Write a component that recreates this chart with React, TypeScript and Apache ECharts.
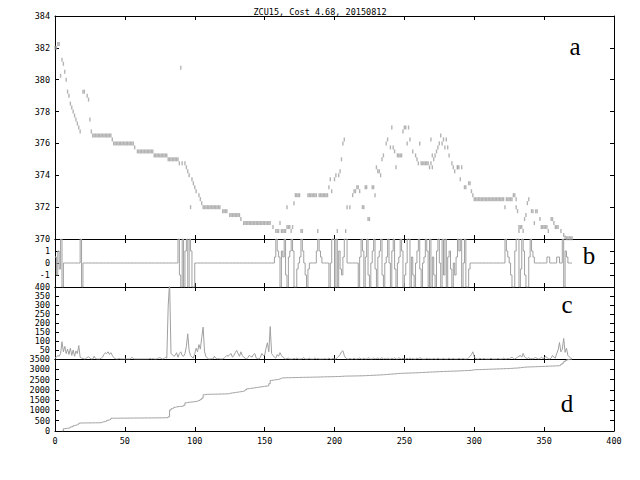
import React, { useEffect, useRef } from 'react';
import * as echarts from 'echarts';

const TITLE = 'ZCU15, Cost 4.68, 20150812';
const PANEL_LABELS = ['a', 'b', 'c', 'd'];

// panel a: price marks, index 0..370 (null = no mark)
const priceMain: (number | null)[] = [
  382.0, 382.0, 382.25, 382.25, 380.25, 381.25, 381.0, 380.5, 380.0, 379.25,
  379.0, 378.5, 378.25, 378.0, 377.75, 377.5, 377.25, 377.0, 376.75, null,
  379.25, 379.25, null, 379.0, 378.75, 377.5, 376.75, 376.5, 376.5, 376.5,
  376.5, 376.5, 376.5, 376.5, 376.5, 376.5, 376.5, 376.5, 376.5, 376.5,
  376.5, 376.25, 376.0, 376.0, 376.0, 376.0, 376.0, 376.0, 376.0, 376.0,
  376.0, 376.0, 376.0, 376.0, 376.0, 376.0, 376.0, 375.75, null, 375.5,
  375.5, 375.5, 375.5, 375.5, 375.5, 375.5, 375.5, 375.5, 375.5, 375.5,
  375.5, 375.25, 375.25, 375.25, 375.25, 375.25, 375.25, 375.25, 375.25, 375.25,
  375.25, 375.0, 375.0, 375.0, 375.0, 375.0, 375.0, 375.0, 375.0, 374.75,
  null, 374.75, null, 374.75, 374.5, 374.25, 374.0, null, 373.75, 373.5,
  373.25, 373.0, null, 372.75, 372.5, 372.25, 372.0, 372.0, 372.0, 372.0,
  372.0, 372.0, 372.0, 372.0, 372.0, 372.0, 372.0, 372.0, 372.0, null,
  371.75, 371.75, 371.75, 371.75, null, 371.5, 371.5, 371.5, 371.5, 371.5,
  371.5, 371.5, 371.5, 371.25, null, 371.0, 371.0, 371.0, 371.0, 371.0,
  371.0, 371.0, 371.0, 371.0, 371.0, 371.0, 371.0, 371.0, 371.0, 371.0,
  371.0, 371.0, 371.0, 371.0, 371.0, null, 370.75, null, 370.5, 370.5,
  370.5, 371.0, 370.5, 370.5, 370.5, 370.5, 372.0, 370.75, 370.75, 370.5,
  370.75, 372.25, 372.75, 372.75, 372.75, 372.75, 370.5, 370.5, null, null,
  null, 372.75, 372.75, 372.75, 372.75, 372.75, 372.75, 372.75, 370.5, 372.75,
  372.75, 372.75, 372.75, 372.75, 372.75, 372.75, 373.25, 373.75, 373.0, null,
  373.75, 374.0, 370.5, 374.0, 374.25, 375.0, 376.0, 376.25, 370.5, 372.0,
  null, 372.0, null, 372.75, 373.0, 373.0, 373.25, 373.25, 373.0, null,
  372.0, 372.0, 373.25, 373.25, 371.25, 371.25, null, 373.25, 373.25, 372.75,
  374.5, 374.25, 374.25, 374.0, 375.0, 375.25, null, 376.0, 376.25, null,
  375.75, 377.0, 375.75, 375.5, 374.5, 375.25, 375.25, 375.25, 375.25, 376.75,
  377.0, 377.0, 376.0, 377.0, 376.25, null, 375.5, null, 375.25, 375.0,
  374.75, 376.0, 374.75, 374.75, 374.75, 374.75, 374.75, 374.75, 374.5, 376.25,
  375.25, 375.0, 375.25, 375.5, 375.75, 376.0, 376.5, 376.0, 376.25, 375.75,
  376.25, 375.75, 375.25, null, 374.75, 374.5, 374.25, null, 374.5, 374.5,
  373.75, 374.5, null, 373.25, 373.25, null, 373.5, 373.5, 373.0, 372.75,
  372.5, 372.5, 372.5, 372.5, 372.5, 372.5, 372.5, 372.5, 372.5, 372.5,
  372.5, 372.5, 372.5, 372.5, 372.5, 372.5, 372.5, 372.5, 372.5, 372.5,
  372.5, 372.5, 372.0, 372.5, 372.5, 372.5, 372.5, 372.5, 372.75, 372.75,
  372.5, 371.75, 370.5, 370.75, 370.75, 370.5, 371.25, 371.5, 372.25, 372.5,
  null, 371.75, 371.75, 371.0, 371.75, 371.75, null, 371.25, 370.75, 370.75,
  370.75, 370.75, 370.75, 370.5, null, 371.25, 371.25, 371.0, 370.75, 370.75,
  370.75, null, 370.5, null, 370.25, 370.1, 370.05, 370.05, 370.05, 370.05,
  370.05,
];

// panel a: additional marks at an index [index, price]
const priceExtra: [number, number][] = [
  [90, 380.75], [97, 372.0], [166, 370.75], [269, 374.75], [270, 374.5],
  [288, 374.5], [330, 372.0], [332, 370.75],
];

// panel b: signal
const signal: number[] = [
  0.5, -1, 1, -0.5, 2, -2, 0, 0, 0, 0,
  0, 0, 0, 0, 0, 0, 0, 0, 2, -2,
  0, 0, 0, 0, 0, 0, 0, 0, 0, 0,
  0, 0, 0, 0, 0, 0, 0, 0, 0, 0,
  0, 0, 0, 0, 0, 0, 0, 0, 0, 0,
  0, 0, 0, 0, 0, 0, 0, 0, 0, 0,
  0, 0, 0, 0, 0, 0, 0, 0, 0, 0,
  0, 0, 0, 0, 0, 0, 0, 0, 0, 0,
  0, 0, 0, 0, 0, 0, 0, 0, 2, -1,
  -2, 2, -2, 1, 2, -2, 2, 1, -2, -2,
  0, 0, 0, 0, 0, 0, 0, 0, 0, 0,
  0, 0, 0, 0, 0, 0, 0, 0, 0, 0,
  0, 0, 0, 0, 0, 0, 0, 0, 0, 0,
  0, 0, 0, 0, 0, 0, 0, 0, 0, 0,
  0, 0, 0, 0, 0, 0, 0, 0, 0, 0,
  0, 0, 0, 0, 0, 0, 0, 0.5, 2, 1,
  0.5, -2, 1, 0.5, 2, -1, -2, 0.5, 1, 2,
  1, -2, -2, -0.5, 0, 0.5, 2, 1, 0, -1,
  -2, -0.5, 0, 0, 0, 0, 0, 1, 2, 1,
  0.5, 0, 0, 0, 0, 0, -2, 0, 2, 2,
  -2, 2, -2, 1, -0.5, -1, 0.5, 2, 2, 0,
  0, 0, 0, 0, 0, 0, 0, -2, 0.5, 2,
  1, -2, 0.5, 2, -1, -2, 0, 1, 2, -0.5,
  -2, 0.5, 1, 2, -1, -2, 0, 0.5, 2, 0,
  -2, 1, 2, -0.5, -2, 0, 0.5, 2, 1, -2,
  -1, 0, 2, 2, -2, 0.5, -1, -2, 0, 1,
  2, -0.5, -2, 0, 0.5, 2, 1, -2, 2, -2,
  0.5, -1, -2, 1, 2, 0, -2, 2, -1, 2,
  -2, 0.5, 1, -0.5, -2, 0, -1, 0.5, 2, 1,
  2, -2, 0, 2, -2, -2, -0.5, 0, 0, 0,
  0, 0, 0, 0, 0, 0, 0, 0, 0, 0,
  0, 0, 0, 0, 0, 0, 0, 0, 0, 0,
  0, 0, 2, 1, 0.5, 0, -1, -2, -2, 1,
  2, 2, -2, -0.5, 2, 1, -1, -2, -2, 0.5,
  2, 1, 0.5, 0, 0, 0, 0, 0, 0, 0,
  0, 0, 0.5, 0.5, 0, 0, 0, 0, 0, 0.5,
  0.5, 0, 0, 2, -2, 1, 0.5, 0, 0, 0,
  0,
];

// panel c: volume
const volume: number[] = [
  5, 10, 20, 15, 30, 96, 40, 70, 30, 55,
  25, 60, 20, 50, 15, 45, 30, 75, 10, 5,
  3, 0, 2, 8, 12, 5, 0, 0, 15, 2,
  0, 0, 0, 5, 10, 25, 35, 30, 40, 25,
  35, 20, 8, 2, 0, 0, 3, 0, 0, 0,
  0, 0, 0, 0, 0, 10, 2, 0, 0, 0,
  0, 0, 0, 0, 0, 0, 0, 0, 3, 0,
  2, 0, 0, 0, 5, 8, 3, 0, 2, 10,
  5, 294, 430, 30, 25, 15, 20, 35, 10, 30,
  40, 20, 15, 30, 70, 140, 45, 20, 10, 5,
  30, 60, 40, 80, 55, 120, 177, 40, 15, 5,
  0, 0, 2, 0, 15, 5, 0, 3, 0, 0,
  0, 5, 12, 20, 15, 25, 30, 10, 20, 35,
  48, 30, 15, 40, 20, 10, 5, 0, 8, 20,
  15, 10, 25, 30, 5, 2, 0, 10, 30, 20,
  20, 60, 90, 40, 180, 30, 20, 10, 5, 25,
  15, 35, 20, 10, 5, 0, 2, 5, 0, 0,
  0, 3, 0, 5, 0, 0, 0, 2, 8, 0,
  0, 0, 5, 0, 0, 0, 6, 0, 3, 0,
  0, 0, 0, 2, 0, 0, 5, 0, 0, 3,
  0, 0, 8, 15, 25, 40, 46, 20, 5, 0,
  0, 3, 0, 0, 5, 0, 0, 2, 6, 0,
  0, 4, 0, 0, 8, 2, 0, 0, 5, 0,
  3, 6, 0, 2, 7, 0, 3, 0, 5, 0,
  0, 4, 0, 6, 0, 0, 7, 3, 0, 5,
  0, 0, 4, 0, 6, 0, 3, 0, 0, 5,
  0, 8, 3, 0, 0, 0, 4, 0, 2, 0,
  0, 3, 0, 0, 5, 0, 0, 0, 3, 0,
  0, 0, 5, 0, 0, 3, 0, 0, 0, 4,
  0, 0, 3, 0, 0, 0, 8, 15, 25, 40,
  12, 3, 0, 0, 5, 0, 0, 3, 0, 0,
  0, 0, 4, 0, 0, 0, 0, 3, 0, 0,
  0, 5, 0, 0, 3, 0, 5, 10, 3, 0,
  5, 10, 15, 20, 10, 31, 12, 5, 3, 8,
  0, 3, 0, 5, 8, 3, 0, 2, 10, 5,
  3, 15, 8, 2, 0, 5, 20, 10, 5, 30,
  50, 92, 40, 54, 114, 37, 60, 20, 12, 5,
  3,
];

// panel d: cumulative cost
const cumulative: (number | null)[] = [
  null, null, null, null, null, 0, 110, 120, 130, 140,
  160, 200, 210, 260, 280, 300, 330, 380, 390, 390,
  390, 392, 392, 392, 395, 395, 395, 395, 398, 398,
  400, 400, 400, 430, 445, 460, 480, 520, 540, 570,
  620, 620, 620, 620, 622, 622, 622, 625, 625, 625,
  625, 625, 628, 628, 628, 628, 630, 630, 630, 630,
  630, 632, 632, 632, 635, 635, 635, 635, 635, 638,
  638, 638, 640, 640, 640, 640, 640, 642, 642, 645,
  650, 690, 1020, 1080, 1110, 1150, 1170, 1180, 1190, 1195,
  1200, 1210, 1250, 1370, 1385, 1395, 1400, 1410, 1420, 1425,
  1435, 1450, 1480, 1500, 1540, 1600, 1760, 1780, 1780, 1785,
  1785, 1785, 1790, 1790, 1790, 1790, 1795, 1795, 1800, 1800,
  1800, 1805, 1805, 1810, 1820, 1840, 1850, 1860, 1870, 1880,
  1890, 1900, 1910, 1920, 1930, 1960, 2000, 2050, 2060, 2070,
  2080, 2090, 2100, 2110, 2120, 2130, 2140, 2150, 2160, 2170,
  2180, 2185, 2200, 2300, 2460, 2470, 2480, 2490, 2500, 2510,
  2530, 2560, 2580, 2585, 2585, 2590, 2590, 2590, 2595, 2595,
  2595, 2600, 2600, 2600, 2605, 2605, 2605, 2610, 2610, 2610,
  2610, 2615, 2615, 2615, 2620, 2620, 2620, 2620, 2625, 2625,
  2630, 2630, 2632, 2635, 2635, 2637, 2640, 2640, 2642, 2645,
  2645, 2648, 2650, 2652, 2655, 2660, 2665, 2668, 2670, 2670,
  2672, 2672, 2674, 2675, 2676, 2678, 2680, 2680, 2682, 2685,
  2688, 2690, 2692, 2695, 2700, 2702, 2705, 2708, 2712, 2715,
  2718, 2722, 2725, 2730, 2735, 2740, 2745, 2750, 2755, 2760,
  2765, 2770, 2775, 2780, 2790, 2795, 2800, 2802, 2805, 2808,
  2810, 2812, 2815, 2818, 2820, 2822, 2825, 2828, 2830, 2835,
  2838, 2840, 2845, 2848, 2850, 2855, 2860, 2862, 2865, 2870,
  2872, 2875, 2878, 2880, 2885, 2888, 2890, 2892, 2895, 2898,
  2900, 2902, 2905, 2908, 2910, 2912, 2915, 2918, 2920, 2925,
  2928, 2930, 2933, 2935, 2938, 2940, 2945, 2950, 2960, 2975,
  2980, 2982, 2984, 2985, 2988, 2990, 2992, 2995, 2997, 3000,
  3002, 3005, 3008, 3010, 3012, 3015, 3018, 3020, 3022, 3025,
  3028, 3030, 3032, 3035, 3038, 3040, 3045, 3050, 3055, 3058,
  3062, 3068, 3075, 3085, 3090, 3100, 3105, 3110, 3112, 3115,
  3118, 3120, 3122, 3125, 3128, 3130, 3132, 3134, 3140, 3142,
  3145, 3150, 3152, 3155, 3155, 3158, 3162, 3165, 3168, 3170,
  3175, 3200, 3250, 3300, 3380, 3420, 3460, 3480, 3490, 3495,
  3500,
];

const X_MIN = 0;
const X_MAX = 400;
const X_STEP = 50;

const Y_RANGES = [
  { min: 370, max: 384, interval: 2, hide: [] as number[] },
  { min: -2, max: 2, interval: 1, hide: [-2, 2] },
  { min: 0, max: 400, interval: 50, hide: [0] },
  { min: 0, max: 3500, interval: 500, hide: [] as number[] },
];

const GRID_BOXES = [
  { top: 16, height: 223 },
  { top: 239, height: 48 },
  { top: 287, height: 72 },
  { top: 359, height: 72 },
];

const LABEL_POS = [
  { x: 575, y: 46 },
  { x: 589, y: 255 },
  { x: 567, y: 304 },
  { x: 567, y: 403 },
];

const GRAY = '#a0a0a0';
const MONO = '"DejaVu Sans Mono", monospace';

export default function App() {
  const ref = useRef<HTMLDivElement>(null);

  useEffect(() => {
    if (!ref.current) return;
    const chart = echarts.init(ref.current, null, { renderer: 'svg' });

    const axisLine = { show: true, onZero: false, lineStyle: { color: '#000', width: 1 } };
    const axisTick = { show: true, inside: true, length: 4, lineStyle: { color: '#000', width: 1 } };

    const grid = GRID_BOXES.map((g) => ({ left: 55, right: 26, top: g.top, height: g.height }));

    const xAxis: any[] = [];
    const yAxis: any[] = [];
    GRID_BOXES.forEach((_, gi) => {
      ['bottom', 'top'].forEach((pos) => {
        xAxis.push({
          type: 'value',
          gridIndex: gi,
          position: pos,
          min: X_MIN,
          max: X_MAX,
          interval: X_STEP,
          axisLine,
          axisTick,
          splitLine: { show: false },
          axisLabel: {
            show: gi === 3 && pos === 'bottom',
            margin: 5,
            color: '#000',
            fontFamily: MONO,
            fontSize: 8.5,
            showMinLabel: true,
            showMaxLabel: true,
          },
        });
      });
      const r = Y_RANGES[gi];
      ['left', 'right'].forEach((pos) => {
        yAxis.push({
          type: 'value',
          gridIndex: gi,
          position: pos,
          min: r.min,
          max: r.max,
          interval: r.interval,
          axisLine,
          axisTick,
          splitLine: { show: false },
          axisLabel: {
            show: pos === 'left',
            margin: 5,
            color: '#000',
            fontFamily: MONO,
            fontSize: 8.5,
            showMinLabel: true,
            showMaxLabel: true,
            formatter: (v: number) => (r.hide.includes(v) ? '' : String(v)),
          },
        });
      });
    });

    const scatterData: [number, number][] = [];
    priceMain.forEach((v, i) => {
      if (v !== null) scatterData.push([i, v]);
    });
    priceExtra.forEach((p) => scatterData.push([p[0], p[1]]));

    const option: any = {
      animation: false,
      backgroundColor: '#fff',
      title: {
        text: TITLE,
        left: 'center',
        top: 2,
        textStyle: { fontFamily: MONO, fontSize: 8.5, fontWeight: 'normal', color: '#000' },
      },
      grid,
      xAxis,
      yAxis,
      series: [
        {
          type: 'scatter',
          xAxisIndex: 0,
          yAxisIndex: 0,
          symbol: 'rect',
          symbolSize: [1.4, 4],
          itemStyle: { color: GRAY },
          data: scatterData,
          silent: true,
        },
        {
          type: 'line',
          xAxisIndex: 2,
          yAxisIndex: 2,
          step: 'end',
          showSymbol: false,
          lineStyle: { color: GRAY, width: 1 },
          data: signal.map((v, i) => [i, v]),
          silent: true,
        },
        {
          type: 'line',
          xAxisIndex: 4,
          yAxisIndex: 4,
          showSymbol: false,
          lineStyle: { color: GRAY, width: 1 },
          data: volume.map((v, i) => [i, v]),
          silent: true,
        },
        {
          type: 'line',
          xAxisIndex: 6,
          yAxisIndex: 6,
          step: 'end',
          showSymbol: false,
          lineStyle: { color: GRAY, width: 1 },
          data: cumulative
            .map((v, i) => (v === null ? null : [i, v]))
            .filter((p) => p !== null),
          silent: true,
        },
      ],
      graphic: PANEL_LABELS.map((t, i) => ({
        type: 'text',
        x: LABEL_POS[i].x,
        y: LABEL_POS[i].y,
        silent: true,
        style: {
          text: t,
          fontSize: 25,
          fontFamily: '"Liberation Serif", "Times New Roman", serif',
          fill: '#000',
          align: 'center',
          verticalAlign: 'middle',
          textAlign: 'center',
          textVerticalAlign: 'middle',
        },
      })),
    };

    chart.setOption(option);
    return () => chart.dispose();
  }, []);

  return (
    <div
      ref={ref}
      style={{ position: 'absolute', left: 0, top: 0, width: 640, height: 480, background: '#fff' }}
    />
  );
}
